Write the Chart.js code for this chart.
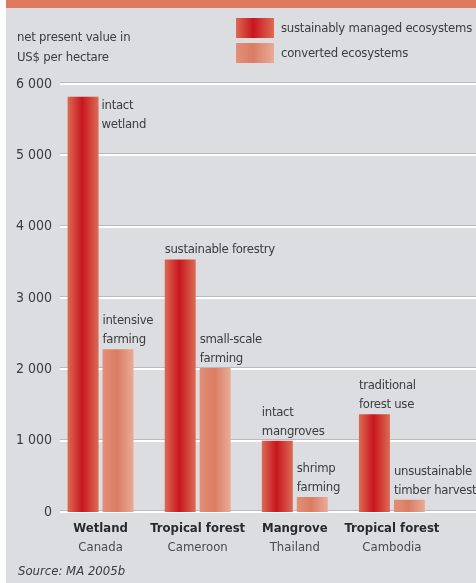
<!DOCTYPE html>
<html>
<head>
<meta charset="utf-8">
<script src="https://cdn.jsdelivr.net/npm/chart.js@4.4.1/dist/chart.umd.min.js"></script>
<style>
    html, body { margin: 0; padding: 0; background: #fff; }
    body {
        width: 476px; height: 583px; position: relative; overflow: hidden;
        font-family: 'DejaVu Sans Condensed', sans-serif;
        color: #3c3c3e;
    }
    #panel { position: absolute; left: 6px; top: 0; width: 470px; height: 583px; background: #dcdde0; }
    #band { position: absolute; left: 6px; top: 0; width: 470px; height: 8px; background: #df7a5e; }
    #chartBox { position: absolute; left: 0; top: 0; width: 476px; height: 583px; }
    .ytitle { position: absolute; left: 17px; top: 27px; font-size: 13px; line-height: 20px; letter-spacing: -0.2px; }
    .legend-item { position: absolute; left: 236px; height: 20px; font-size: 13px; line-height: 20px; white-space: nowrap; letter-spacing: -0.25px; }
    .swatch { display: inline-block; width: 38px; height: 20px; vertical-align: top; margin-right: 7px; }
    .sw-sus { background: linear-gradient(to right, #dc6a54, #c8161f 45%, #dc6b55); }
    .sw-conv { background: linear-gradient(to right, #e38f78, #da7d64 45%, #eaab97); }
    .source { position: absolute; left: 18px; top: 563px; font-size: 13px; font-style: italic; }
</style>
</head>
<body>
<div id="panel"></div>
<div id="band"></div>
<div id="chartBox"><canvas id="valueChart" width="476" height="583"></canvas></div>
<div class="ytitle">net present value in<br>US$ per hectare</div>
<div class="legend-item" style="top:18px"><span class="swatch sw-sus"></span>sustainably managed ecosystems</div>
<div class="legend-item" style="top:43px"><span class="swatch sw-conv"></span>converted ecosystems</div>
<div class="source">Source: MA 2005b</div>

<script>
// Chart data
const categories = ['Wetland', 'Tropical forest', 'Mangrove', 'Tropical forest'];
const countries = ['Canada', 'Cameroon', 'Thailand', 'Cambodia'];
const sustainableValues = [5820, 3540, 1000, 1370];
const convertedValues = [2280, 2020, 210, 170];
const yTicks = [0, 1000, 2000, 3000, 4000, 5000, 6000];

// Bar notes (text only)
const sustainableNotes = [['intact', 'wetland'], ['sustainable forestry'], ['intact', 'mangroves'], ['traditional', 'forest use']];
const convertedNotes = [['intensive', 'farming'], ['small-scale', 'farming'], ['shrimp', 'farming'], ['unsustainable', 'timber harvest']];
const notesBeside = [true, false, false, false]; // sustainable notes placed beside the bar

const CAT_PCT = 0.72;
const BAR_PCT = 0.886;
const FONT = "'DejaVu Sans Condensed', sans-serif";
const TEXT_COLOR = '#3c3c3e';

const susStops = ['#dc6a54', '#c8161f', '#dc6b55'];
const convStops = ['#e38f78', '#da7d64', '#eaab97'];

// Horizontal gradient per bar, computed from the x scale
function barFill(stops, datasetIndex) {
    return function (ctx) {
        const chart = ctx.chart;
        const xs = chart.scales.x;
        if (!xs || ctx.dataIndex === undefined) return stops[1];
        const W = xs.width / categories.length;
        const slot = W * CAT_PCT / 2;
        const bw = slot * BAR_PCT;
        const cx = xs.getPixelForValue(ctx.dataIndex) + (datasetIndex === 0 ? -slot / 2 : slot / 2);
        if (!isFinite(cx) || !isFinite(bw) || bw <= 0) return stops[1];
        const g = chart.ctx.createLinearGradient(cx - bw / 2, 0, cx + bw / 2, 0);
        g.addColorStop(0, stops[0]);
        g.addColorStop(0.47, stops[1]);
        g.addColorStop(1, stops[2]);
        return g;
    };
}

// White gridlines with a thin shadow
const gridPlugin = {
    id: 'gridLines',
    beforeDatasetsDraw(chart) {
        const ys = chart.scales.y;
        const c = chart.ctx;
        c.save();
        ys.ticks.forEach(t => {
            const y = Math.round(ys.getPixelForValue(t.value));
            c.fillStyle = '#b9babd';
            c.fillRect(60, y - 2, 416, 1);
            c.fillStyle = '#ffffff';
            c.fillRect(60, y - 1, 416, 2);
        });
        c.restore();
    }
};

// Text notes next to the bars
const notesPlugin = {
    id: 'barNotes',
    afterDatasetsDraw(chart) {
        const c = chart.ctx;
        c.save();
        c.font = '13px ' + FONT;
        c.letterSpacing = '-0.3px';
        c.fillStyle = TEXT_COLOR;
        c.textAlign = 'left';
        c.textBaseline = 'alphabetic';
        [sustainableNotes, convertedNotes].forEach((notes, di) => {
            const meta = chart.getDatasetMeta(di);
            notes.forEach((lines, i) => {
                const el = meta.data[i];
                const left = el.x - el.width / 2;
                if (di === 0 && notesBeside[i]) {
                    lines.forEach((txt, k) => c.fillText(txt, el.x + el.width / 2 + 3, el.y + 12 + k * 19));
                } else {
                    const n = lines.length;
                    lines.forEach((txt, k) => c.fillText(txt, left, el.y - 6 - (n - 1 - k) * 19));
                }
            });
        });
        c.restore();
    }
};

new Chart(document.getElementById('valueChart'), {
    type: 'bar',
    data: {
        labels: categories,
        datasets: [
            {
                label: 'sustainably managed ecosystems',
                data: sustainableValues,
                backgroundColor: barFill(susStops, 0),
                categoryPercentage: CAT_PCT,
                barPercentage: BAR_PCT
            },
            {
                label: 'converted ecosystems',
                data: convertedValues,
                backgroundColor: barFill(convStops, 1),
                categoryPercentage: CAT_PCT,
                barPercentage: BAR_PCT
            }
        ]
    },
    options: {
        responsive: false,
        animation: false,
        layout: { padding: { top: 84, left: 16, right: 35.5, bottom: 25 } },
        plugins: {
            legend: { display: false },
            tooltip: { enabled: false }
        },
        scales: {
            x: {
                position: 'bottom',
                weight: 0,
                grid: { display: false, drawTicks: false },
                border: { display: false },
                ticks: {
                    padding: 9,
                    maxRotation: 0,
                    autoSkip: false,
                    color: '#2a2a2c',
                    font: { family: FONT, size: 13, weight: 'bold' }
                },
                afterFit: s => { s.height = 26; }
            },
            x2: {
                type: 'category',
                labels: countries,
                position: 'bottom',
                weight: 1,
                offset: true,
                grid: { display: false, drawTicks: false },
                border: { display: false },
                ticks: {
                    padding: 2,
                    maxRotation: 0,
                    autoSkip: false,
                    color: '#4a4a4c',
                    font: { family: FONT, size: 13 }
                },
                afterFit: s => { s.height = 20; }
            },
            y: {
                min: 0,
                max: 6000,
                grid: { display: false, drawTicks: false },
                border: { display: false },
                afterBuildTicks: s => { s.ticks = yTicks.map(v => ({ value: v })); },
                afterFit: s => { s.width = 36; },
                ticks: {
                    padding: 0,
                    color: TEXT_COLOR,
                    font: { family: FONT, size: 14 },
                    callback: v => v === 0 ? '0' : (v / 1000) + ' 000'
                }
            }
        }
    },
    plugins: [gridPlugin, notesPlugin]
});
</script>
</body>
</html>
